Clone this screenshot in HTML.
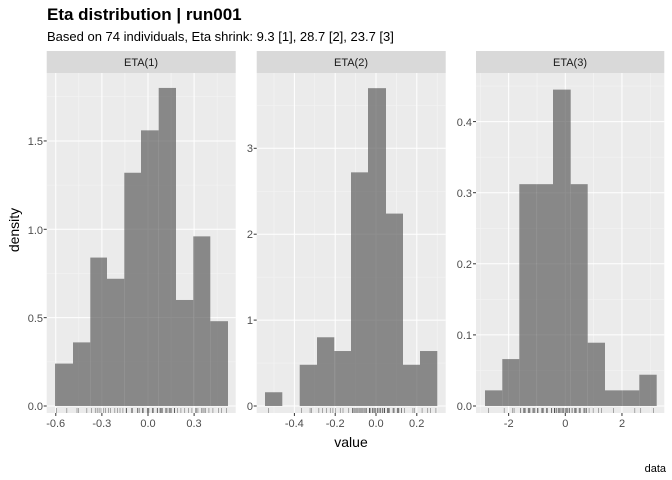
<!DOCTYPE html>
<html><head><meta charset="utf-8"><style>
body{margin:0;background:#fff;}
svg{display:block;font-family:"Liberation Sans",Arial,sans-serif;}
.tk{font-size:11px;fill:#4d4d4d;}
.st{font-size:11px;fill:#1a1a1a;}
</style></head><body>
<svg id="s" width="672" height="480" viewBox="0 0 672 480" xmlns="http://www.w3.org/2000/svg">
<rect width="672" height="480" fill="#fff"/>
<text x="47" y="20" font-size="17" font-weight="bold" fill="#000">Eta distribution | run001</text>
<text x="47" y="41" font-size="13" fill="#000">Based on 74 individuals, Eta shrink: 9.3 [1], 28.7 [2], 23.7 [3]</text>
<g id="p"></g>
<text x="351" y="447" font-size="14" text-anchor="middle" fill="#000">value</text>
<text transform="translate(19,230) rotate(-90)" font-size="14" text-anchor="middle" fill="#000">density</text>
<text x="666" y="472" font-size="11" text-anchor="end" fill="#000">data</text>
<text x="141" y="66" class="st" text-anchor="middle">ETA(1)</text>
<text x="351" y="66" class="st" text-anchor="middle">ETA(2)</text>
<text x="570" y="66" class="st" text-anchor="middle">ETA(3)</text>
<text x="43" y="410" class="tk" text-anchor="end">0.0</text>
<text x="43" y="322" class="tk" text-anchor="end">0.5</text>
<text x="43" y="234" class="tk" text-anchor="end">1.0</text>
<text x="43" y="145" class="tk" text-anchor="end">1.5</text>
<text x="253" y="410" class="tk" text-anchor="end">0</text>
<text x="253" y="324" class="tk" text-anchor="end">1</text>
<text x="253" y="238" class="tk" text-anchor="end">2</text>
<text x="253" y="152" class="tk" text-anchor="end">3</text>
<text x="472" y="410" class="tk" text-anchor="end">0.0</text>
<text x="472" y="339" class="tk" text-anchor="end">0.1</text>
<text x="472" y="268" class="tk" text-anchor="end">0.2</text>
<text x="472" y="197" class="tk" text-anchor="end">0.3</text>
<text x="472" y="126" class="tk" text-anchor="end">0.4</text>
<text x="55.7" y="427" class="tk" text-anchor="middle">-0.6</text>
<text x="101.8" y="427" class="tk" text-anchor="middle">-0.3</text>
<text x="148" y="427" class="tk" text-anchor="middle">0.0</text>
<text x="194" y="427" class="tk" text-anchor="middle">0.3</text>
<text x="294.3" y="427" class="tk" text-anchor="middle">-0.4</text>
<text x="335.2" y="427" class="tk" text-anchor="middle">-0.2</text>
<text x="376" y="427" class="tk" text-anchor="middle">0.0</text>
<text x="416.7" y="427" class="tk" text-anchor="middle">0.2</text>
<text x="508.7" y="427" class="tk" text-anchor="middle">-2</text>
<text x="565.3" y="427" class="tk" text-anchor="middle">0</text>
<text x="622" y="427" class="tk" text-anchor="middle">2</text>
</svg>
<script>
var g=document.getElementById('p'),h='';
function R(x,y,w,hh,f,extra){h+='<rect x="'+x+'" y="'+y+'" width="'+w+'" height="'+hh+'" fill="'+f+'" '+(extra||'')+'/>';}
function L(x1,y1,x2,y2,c,w){h+='<line x1="'+x1+'" y1="'+y1+'" x2="'+x2+'" y2="'+y2+'" stroke="'+c+'" stroke-width="'+w+'"/>';}
var P=[
 {x0:46.7,x1:235.7,y0:406,ys:176.7,yt:[0,0.5,1,1.5],xz:148,xs:153.7,xt:[-0.6,-0.3,0,0.3],
  e:[55,73,90.3,107,124.3,141,158.7,176,193.3,210.3,228],hs:[.24,.36,.84,.72,1.32,1.56,1.8,.6,.96,.48]},
 {x0:256.7,x1:445.7,y0:406,ys:85.9,yt:[0,1,2,3],xz:376,xs:204,xt:[-0.4,-0.2,0,0.2],
  e:[265,282.3,299.7,317,334.3,351,368,386,403,420,437.3],hs:[.16,0,.48,.8,.64,2.72,3.7,2.24,.48,.64]},
 {x0:476,x1:664.3,y0:406,ys:711,yt:[0,.1,.2,.3,.4],xz:565.3,xs:28.33,xt:[-2,0,2],
  e:[485,502.3,519.3,536.3,553,570.7,587.7,605,622.3,639.3,656.7],hs:[.022,.066,.312,.312,.445,.312,.089,.022,.022,.044]}
];
P.forEach(function(p){
 R(p.x0,51,p.x1-p.x0,22,'#d9d9d9');
 R(p.x0,73,p.x1-p.x0,340,'#ebebeb');
 for(var i=0;i<p.yt.length;i++){var v=p.yt[i],d=(p.yt[1]-p.yt[0])/2;var y=p.y0-(v+d)*p.ys;if(y>73)L(p.x0,y,p.x1,y,'#f5f5f5',0.5);}
 for(var i=0;i<p.xt.length;i++){var d=(p.xt[1]-p.xt[0])/2;[p.xt[i]-d,p.xt[i]+d].forEach(function(v){var x=p.xz+v*p.xs;if(x>p.x0&&x<p.x1)L(x,73,x,413,'#f5f5f5',0.5);});}
 p.yt.forEach(function(v){var y=p.y0-v*p.ys;L(p.x0,y,p.x1,y,'#fff',1);L(p.x0-3,y,p.x0,y,'#333',1);});
 p.xt.forEach(function(v){var x=p.xz+v*p.xs;L(x,73,x,413,'#fff',1);L(x,413,x,416,'#333',1);});
 for(var i=0;i<p.hs.length;i++){if(p.hs[i]>0){var hh=p.hs[i]*p.ys;h+='<rect x="'+p.e[i]+'" y="'+(p.y0-hh)+'" width="'+(p.e[i+1]-p.e[i])+'" height="'+hh+'" fill="#595959" fill-opacity="0.68"/>';}}
 var tot=0,w=[];for(var i=0;i<p.hs.length;i++){w.push(p.hs[i]*(p.e[i+1]-p.e[i]));tot+=w[w.length-1];}
 var n=74;for(var k=0;k<n;k++){var q=(k+0.5)/n*tot,c=0;for(var i=0;i<w.length;i++){if(c+w[i]>=q){var f=(q-c)/w[i];f=Math.min(0.92,Math.max(0.08,f+((k*37%11)-5)*0.06));var x=p.e[i]+f*(p.e[i+1]-p.e[i]);h+='<line x1="'+x.toFixed(1)+'" y1="408" x2="'+x.toFixed(1)+'" y2="413" stroke="#333" stroke-opacity="0.55" stroke-width="0.7"/>';break;}c+=w[i];}}
});
g.innerHTML=h;
</script>
</body></html>
